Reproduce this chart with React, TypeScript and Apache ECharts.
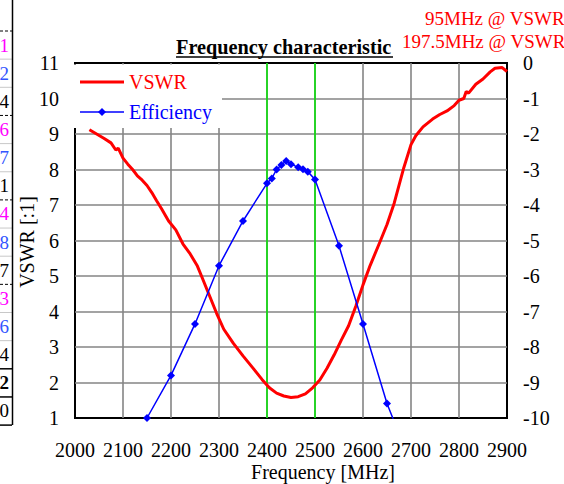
import React, { useEffect, useRef } from "react";
import * as echarts from "echarts";

// VSWR curve (left axis)
const vswrFreq = [2030, 2045, 2060, 2075, 2085, 2090, 2100, 2110, 2120, 2130, 2140, 2150, 2160, 2170, 2180, 2195, 2210, 2225, 2240, 2255, 2265, 2280, 2295, 2310, 2330, 2350, 2370, 2390, 2405, 2420, 2435, 2450, 2465, 2480, 2495, 2510, 2525, 2540, 2555, 2570, 2585, 2600, 2615, 2635, 2650, 2665, 2685, 2700, 2710, 2725, 2745, 2760, 2775, 2790, 2800, 2810, 2815, 2820, 2835, 2850, 2865, 2875, 2890, 2900];
const vswrValues = [9.12, 9.0, 8.88, 8.75, 8.55, 8.6, 8.32, 8.15, 8.0, 7.82, 7.7, 7.55, 7.35, 7.12, 6.9, 6.55, 6.3, 5.9, 5.62, 5.28, 4.95, 4.45, 3.95, 3.5, 3.1, 2.75, 2.42, 2.08, 1.85, 1.7, 1.62, 1.58, 1.6, 1.68, 1.85, 2.07, 2.4, 2.78, 3.2, 3.6, 4.15, 4.75, 5.3, 5.95, 6.45, 7.05, 8.05, 8.7, 8.95, 9.2, 9.42, 9.55, 9.65, 9.8, 9.95, 10.0, 10.2, 10.15, 10.4, 10.55, 10.75, 10.85, 10.87, 10.76];

// Efficiency (right axis)
const effFreq = [2150, 2200, 2250, 2300, 2350, 2400, 2410, 2420, 2430, 2440, 2450, 2465, 2475, 2485, 2500, 2550, 2600, 2650, 2700];
const effValues = [-10, -8.8, -7.35, -5.71, -4.45, -3.39, -3.25, -3.0, -2.87, -2.76, -2.85, -2.94, -2.99, -3.06, -3.28, -5.15, -7.35, -9.59, -11.3];

// band markers
const bandLines = [2400, 2500];

// spreadsheet fragment at left edge
const sideDigits = ["1", "2", "4", "6", "7", "1", "4", "8", "7", "3", "6", "4", "2", "0"];
const sideColors = ["#ff00ff", "#3355ff", "#000", "#ff00ff", "#3355ff", "#000", "#ff00ff", "#3355ff", "#000", "#ff00ff", "#3355ff", "#000", "#000", "#000"];

const FONT = "Liberation Serif";
const FS = 20;

export default function App() {
  const ref = useRef<HTMLDivElement>(null);
  useEffect(() => {
    if (!ref.current) return;
    const chart = echarts.init(ref.current, null, { renderer: "svg" });

    const side: any[] = [];
    const rowH = 28.15;
    sideDigits.forEach((d, i) => {
      side.push({
        type: "text",
        x: 9,
        y: 45 + rowH * i,
        z: 10,
        style: {
          text: d,
          fill: sideColors[i],
          fontFamily: FONT,
          fontSize: 19,
          fontWeight: i === 12 ? "bold" : "normal",
          align: "right",
          verticalAlign: "middle",
        },
      });
    });
    for (let i = 0; i <= 14; i++) {
      const y = 45 + rowH * i - 14;
      const dashed = i === 0 || i === 3 || i === 6 || i === 9;
      const solid = i >= 12;
      side.push({
        type: "line",
        z: 10,
        shape: { x1: 0, y1: y, x2: 12, y2: y },
        style: {
          stroke: dashed || solid ? "#000" : "#c8c8c8",
          lineWidth: solid ? 1.5 : 1,
          lineDash: dashed ? [3, 2] : null,
        },
      });
    }
    side.push({
      type: "line",
      z: 10,
      shape: { x1: 12.5, y1: 0, x2: 12.5, y2: 45 + rowH * 14 - 14 },
      style: { stroke: "#000", lineWidth: 1.5 },
    });

    const txt = (text: string, x: number, y: number, color: string, extra: any = {}) => ({
      type: "text",
      x,
      y,
      z: 12,
      style: {
        text,
        fill: color,
        fontFamily: FONT,
        fontSize: FS,
        verticalAlign: "middle",
        ...extra,
      },
    });

    const option: any = {
      animation: false,
      backgroundColor: "#fff",
      grid: {
        left: 75,
        right: 57,
        top: 63,
        bottom: 66,
        show: true,
        borderColor: "#000",
        borderWidth: 2,
        backgroundColor: "transparent",
      },
      xAxis: {
        type: "value",
        min: 2000,
        max: 2900,
        interval: 100,
        axisLine: { show: false },
        axisTick: { show: false },
        axisLabel: {
          color: "#000",
          fontFamily: FONT,
          fontSize: FS,
          margin: 22,
          formatter: (v: number) => String(v),
        },
        splitLine: {
          show: true,
          showMinLine: false,
          showMaxLine: false,
          lineStyle: { color: "#858585", width: 1.6 },
        },
      },
      yAxis: [
        {
          type: "value",
          min: 1,
          max: 11,
          interval: 1,
          axisLine: { show: false },
          axisTick: { show: false },
          axisLabel: { color: "#000", fontFamily: FONT, fontSize: FS, margin: 16 },
          splitLine: {
            show: true,
            showMinLine: false,
            showMaxLine: false,
            lineStyle: { color: "#858585", width: 1.6 },
          },
        },
        {
          type: "value",
          min: -10,
          max: 0,
          interval: 1,
          position: "right",
          axisLine: { show: false },
          axisTick: { show: false },
          axisLabel: { color: "#000", fontFamily: FONT, fontSize: FS, margin: 16 },
          splitLine: { show: false },
        },
      ],
      series: [
        {
          name: "VSWR",
          type: "line",
          yAxisIndex: 0,
          data: vswrFreq.map((f, i) => [f, vswrValues[i]]),
          showSymbol: false,
          symbol: "none",
          lineStyle: { color: "#ff0000", width: 3 },
          itemStyle: { color: "#ff0000" },
          z: 3,
          markLine: {
            silent: true,
            symbol: ["none", "none"],
            label: { show: false },
            lineStyle: { color: "#00e600", type: "solid", width: 1.5 },
            data: bandLines.map((v) => ({ xAxis: v })),
            z: 2,
          },
        },
        {
          name: "Efficiency",
          type: "line",
          yAxisIndex: 1,
          data: effFreq.map((f, i) => [f, effValues[i]]),
          symbol: "diamond",
          symbolSize: 8,
          lineStyle: { color: "#0000ff", width: 1.5 },
          itemStyle: { color: "#0000ff" },
          z: 4,
        },
      ],
      graphic: [
        // legend box
        {
          type: "rect",
          z: 10,
          shape: { x: 72, y: 64.5, width: 150, height: 63.5 },
          style: { fill: "#fff" },
        },
        {
          type: "line",
          z: 12,
          shape: { x1: 80, y1: 82, x2: 124, y2: 82 },
          style: { stroke: "#ff0000", lineWidth: 3 },
        },
        txt("VSWR", 129, 82, "#ff0000"),
        {
          type: "line",
          z: 12,
          shape: { x1: 80, y1: 112, x2: 124, y2: 112 },
          style: { stroke: "#0000ff", lineWidth: 1.5 },
        },
        {
          type: "polygon",
          z: 12,
          shape: { points: [[102, 108], [106, 112], [102, 116], [98, 112]] },
          style: { fill: "#0000ff" },
        },
        txt("Efficiency", 129, 112, "#0000ff"),
        // title
        txt("Frequency characteristic", 176, 47, "#000", { fontWeight: "bold", fontSize: 20.3 }),
        {
          type: "line",
          z: 10,
          shape: { x1: 176, y1: 57, x2: 393, y2: 57 },
          style: { stroke: "#000", lineWidth: 1.5 },
        },
        txt("95MHz @ VSWR", 425, 18, "#ff0000", { fontSize: 19 }),
        txt("197.5MHz @ VSWR", 402, 41, "#ff0000", { fontSize: 19 }),
        txt("Frequency [MHz]", 323, 472, "#000", { align: "center" }),
        {
          ...txt("VSWR [:1]", 27, 242, "#000", { align: "center" }),
          rotation: Math.PI / 2,
        },
        ...side,
      ],
    };
    chart.setOption(option);
    return () => chart.dispose();
  }, []);
  return (
    <div
      ref={ref}
      style={{ position: "fixed", left: 0, top: 0, width: 564, height: 484, background: "#fff" }}
    />
  );
}
